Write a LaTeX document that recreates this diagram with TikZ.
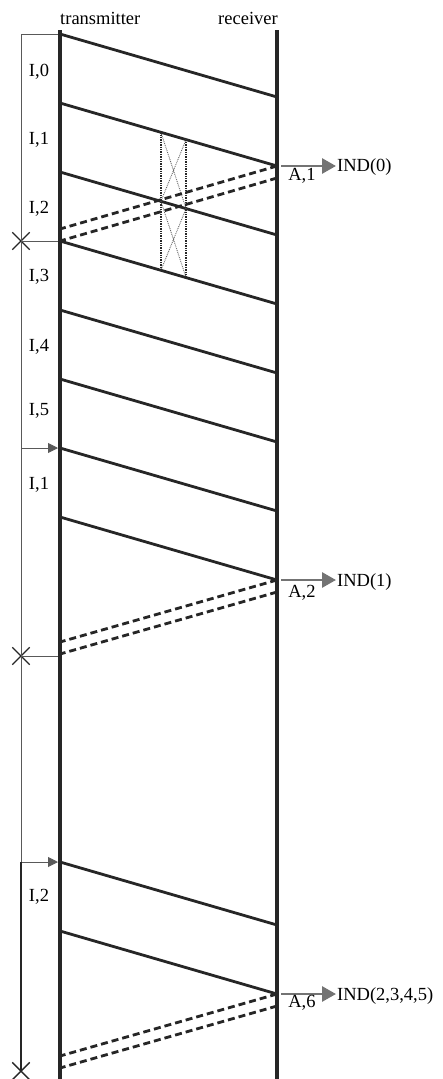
\documentclass[tikz,border=0pt]{standalone}
\usepackage{fontspec}
\setmainfont{Liberation Serif}
\usetikzlibrary{arrows.meta,calc,shapes.misc}

\begin{document}
\begin{tikzpicture}[x=1pt, y=-1pt, >=latex, font=\fontsize{18.5}{20}\selectfont,
    life/.style={line width=4.2pt, draw=black!85},
    frame/.style={line width=2.8pt, draw=black!85},
    ackline/.style={line width=2.8pt, draw=black!85, dash pattern=on 7pt off 4pt},
    timer/.style={line width=0.9pt, draw=black!65},
    timeout/.style={draw=black!85, cross out, minimum size=16pt, inner sep=0pt, line width=1.4pt},
    indarrow/.style={line width=2.8pt, draw=black!55, -{Triangle[length=14pt,width=15pt]}},
    lostbox/.style={line width=1.4pt, draw=black!85, densely dotted},
    lostx/.style={line width=0.9pt, draw=black!60, densely dotted}]
        \useasboundingbox (0,0) rectangle (443,1079);
        %% lineas de vida
        \coordinate (txtop) at (60,30);
        \coordinate (txbot) at (60,1079);
        \coordinate (rxtop) at (277,30);
        \coordinate (rxbot) at (277,1079);
        \node[anchor=base west, inner sep=0pt] (txlab) at (60,24) {transmitter};
        \node[anchor=base east, inner sep=0pt] (rxlab) at (278,24) {receiver};
        %% tramas I
        \foreach \i in {0,...,7} {
            \coordinate (s\i) at (60,34+69*\i);
            \coordinate (e\i) at (277,97+69*\i);
            \draw[frame] (s\i) -- (e\i);
        }
        \coordinate (s8) at (60,862);
        \coordinate (e8) at (277,925);
        \coordinate (s9) at (60,931);
        \coordinate (e9) at (277,994);
        \draw[frame] (s8) -- (e8);
        \draw[frame] (s9) -- (e9);
        \node (i0) at (39,72)  {I,0};
        \node (i1) at (39,140) {I,1};
        \node (i2) at (39,209) {I,2};
        \node (i3) at (39,277) {I,3};
        \node (i4) at (39,347) {I,4};
        \node (i5) at (39,411) {I,5};
        \node (i6) at (39,485) {I,1};
        \node (i7) at (39,897) {I,2};
        %% tramas perdidas
        \path (s1) -- (e1) coordinate[pos=0.465] (b1) coordinate[pos=0.581] (b2);
        \path (s2) -- (e2) coordinate[pos=0.465] (b5) coordinate[pos=0.581] (b6);
        \path (s3) -- (e3) coordinate[pos=0.465] (b3) coordinate[pos=0.581] (b4);
        \draw[lostx] (b1) -- (b6) (b2) -- (b5) (b5) -- (b4) (b6) -- (b3);
        \draw[lostbox] (b1) -- (b3) (b2) -- (b4);
        %% acuses A (discontinuas)
        \coordinate (a1s) at (277,178);
        \coordinate (a1t) at (60,229);
        \coordinate (a2s) at (277,592);
        \coordinate (a2t) at (60,642);
        \coordinate (a3s) at (277,1006);
        \coordinate (a3t) at (60,1056);
        \coordinate (a3u) at (60,1068);
        \draw[ackline] (e1) -- (a1t);
        \draw[ackline] (a1s) -- (s3);
        \draw[ackline] (e7) -- (a2t);
        \draw[ackline] (a2s) -- (60,654);
        \draw[ackline] (e9) -- (a3t);
        \draw[ackline] (a3s) -- (a3u);
        %% indicaciones al receptor
        \node[anchor=west, inner sep=1pt] (ind0) at (336,167) {IND(0)};
        \node[anchor=west, inner sep=1pt] (ind1) at (336,582) {IND(1)};
        \node[anchor=west, inner sep=1pt] (ind2) at (336,996) {IND(2,3,4,5)};
        \draw[indarrow] ($(e1)+(4,0)$) -- (e1 -| ind0.west);
        \draw[indarrow] ($(e7)+(4,0)$) -- (e7 -| ind1.west);
        \draw[indarrow] ($(e9)+(4,0)$) -- (e9 -| ind2.west);
        \node (ack1) at (302,176)  {A,1};
        \node (ack2) at (302,593)  {A,2};
        \node (ack6) at (302,1003) {A,6};
        %% temporizador
        \coordinate (tm0) at (21,34);
        \coordinate (tm2) at (21,448);
        \coordinate (tm4) at (21,862);
        \node[timeout] (xa) at (21,241) {};
        \node[timeout] (xb) at (21,656) {};
        \node[timeout] (xc) at (21,1071) {};
        \draw[timer] (tm0) -- (s0);
        \draw[timer] (tm0) -- (tm4);
        \draw[timer] (xa.center) -- (60,241);
        \draw[timer] (xb.center) -- (60,656);
        \draw[timer, -{Triangle[length=10pt,width=10pt]}, shorten >=2pt] (tm2) -- (s6);
        \draw[timer, -{Triangle[length=10pt,width=10pt]}, shorten >=2pt] (tm4) -- (s8);
        \draw[timer, draw=black!85, line width=1.3pt] (tm4) -- (xc.center);
        %% lineas de vida encima
        \draw[life] (txtop) -- (txbot);
        \draw[life] (rxtop) -- (rxbot);
    \end{tikzpicture}
\end{document}
